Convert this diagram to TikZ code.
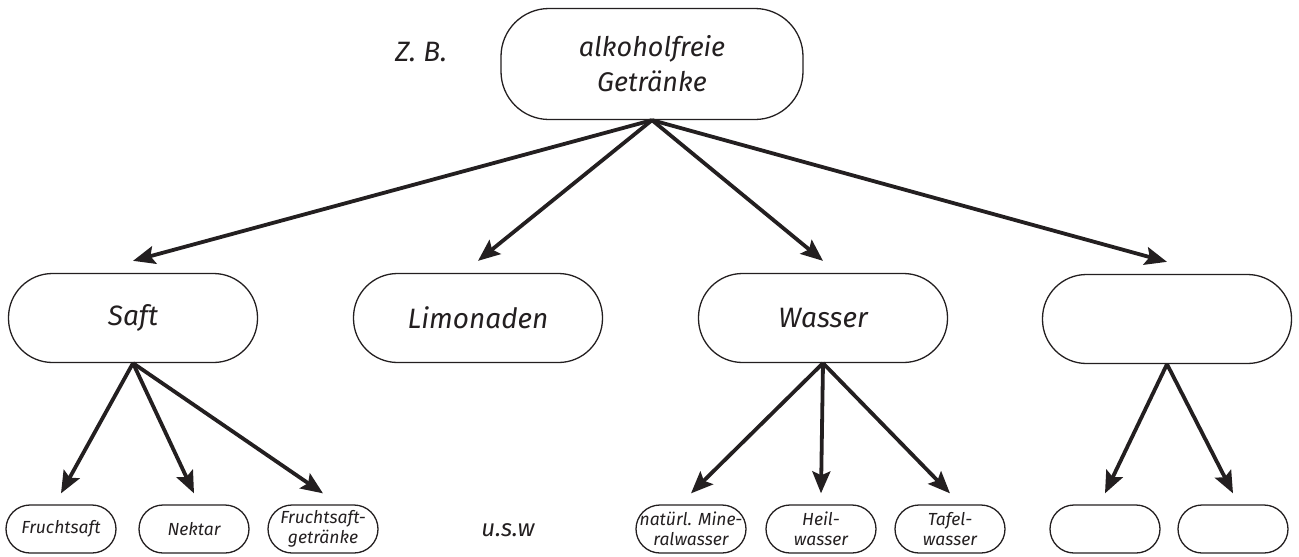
\documentclass[tikz,border=0pt]{standalone}
\usepackage{fontspec}
\setmainfont{Fira Sans}
\usepackage{xcolor}
\usetikzlibrary{arrows.meta}

\definecolor{ink}{RGB}{35,31,32}

\begin{document}
\begin{tikzpicture}[x=1pt,y=-1pt,ink,
	box/.style={draw,line width=1.3pt,rounded corners=44pt,minimum width=249pt,%
	minimum height=89pt,inner sep=0pt,font=\fontsize{28}{34}\selectfont\itshape},
	topbox/.style={box,rounded corners=48pt,minimum width=302pt,minimum height=111pt,%
	align=center,font=\fontsize{27}{35}\selectfont\itshape},
	leaf/.style={draw,line width=1.3pt,rounded corners=24pt,minimum width=110pt,%
	minimum height=48pt,inner sep=0pt,align=center,font=\fontsize{17.5}{20}\selectfont\itshape},
	arr/.style={line width=3.8pt,-{Stealth[length=22pt,width=18pt,inset=4pt]}}]
			\useasboundingbox (0,0) rectangle (1299,557);
			
			\node[topbox] (alk) at (652,64) {alkoholfreie\\Getränke};
			\node[font=\fontsize{28}{35}\selectfont\itshape] (zb) at (421,52) {Z. B.};
			
			\node[box] (saft) at (133,318) {Saft};
			\node[box] (limo) at (478,318) {Limonaden};
			\node[box] (wasser) at (823,318) {Wasser};
			\node[box] (leer) at (1167,319) {};
			
			\node[leaf] (fsaft) at (61,529) {Fruchtsaft};
			\node[leaf] (nektar) at (194,529) {Nektar};
			\node[leaf] (fsgetr) at (323,529) {Fruchtsaft-\\getränke};
			\node[font=\fontsize{24}{30}\selectfont\itshape] (usw) at (508,530) {u.s.w};
			\node[leaf] (miner) at (691,529) {natürl. Mine-\\ralwasser};
			\node[leaf] (heil) at (821,529) {Heil-\\wasser};
			\node[leaf] (tafel) at (950,529) {Tafel-\\wasser};
			\node[leaf] (leera) at (1105,529) {};
			\node[leaf] (leerb) at (1233,529) {};
			
			\draw[arr] (alk.south) -- ([yshift=12pt]saft.north);
			\draw[arr] (alk.south) -- ([yshift=12pt]limo.north);
			\draw[arr] (alk.south) -- ([yshift=12pt]wasser.north);
			\draw[arr] (alk.south) -- ([yshift=12pt]leer.north);
			
			\draw[arr] (saft.south) -- ([yshift=11pt]fsaft.north);
			\draw[arr] (saft.south) -- ([yshift=11pt]nektar.north);
			\draw[arr] (saft.south) -- ([yshift=11pt]fsgetr.north);
			
			\draw[arr] (wasser.south) -- ([yshift=11pt]miner.north);
			\draw[arr] (wasser.south) -- ([yshift=11pt]heil.north);
			\draw[arr] (wasser.south) -- ([yshift=11pt]tafel.north);
			
			\draw[arr] (leer.south) -- ([yshift=11pt]leera.north);
			\draw[arr] (leer.south) -- ([yshift=11pt]leerb.north);
		\end{tikzpicture}
\end{document}
